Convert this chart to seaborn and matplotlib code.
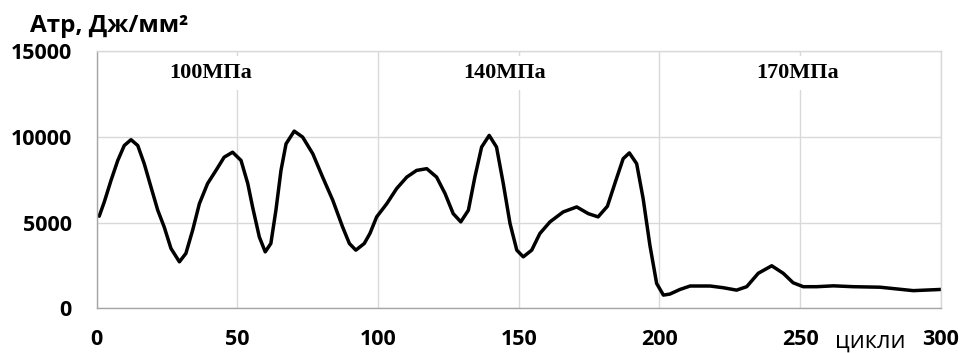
import matplotlib
matplotlib.use("Agg")
import matplotlib.pyplot as plt
import seaborn as sns
import pandas as pd

# Fatigue test: work of friction per loading cycle
cycles = [0.9, 2.7, 5.1, 7.5, 9.8, 12.2, 14.6, 16.9, 19.3, 21.7, 24.0, 26.4,
          29.4, 31.7, 34.1, 36.5, 39.4, 42.4, 45.3, 48.3, 51.3, 53.7, 55.4,
          57.8, 59.9, 61.9, 63.7, 65.5, 67.3, 70.2, 73.2, 76.8, 80.3, 83.9,
          87.4, 89.8, 92.1, 95.1, 97.1, 99.5, 103.1, 106.6, 110.2, 113.7,
          117.3, 120.8, 123.8, 126.7, 129.4, 132.1, 134.4, 136.8, 139.5,
          142.1, 144.5, 146.9, 149.3, 151.6, 154.6, 157.5, 161.1, 165.8,
          170.6, 174.7, 178.2, 181.5, 184.5, 187.1, 189.3, 191.9, 194.2,
          196.6, 199.0, 201.4, 203.7, 207.3, 210.9, 218.0, 222.7, 227.4,
          231.0, 235.1, 239.9, 244.0, 247.5, 251.1, 255.9, 261.8, 268.9,
          278.4, 290.2, 300.0]
work = [5370, 6200, 7460, 8620, 9490, 9830, 9490, 8430, 7070, 5720, 4740, 3490,
        2710, 3200, 4550, 6100, 7270, 8040, 8810, 9100, 8620, 7270, 5910,
        4160, 3290, 3780, 5720, 8040, 9590, 10330, 9980, 9010, 7650, 6300,
        4740, 3780, 3390, 3780, 4360, 5330, 6100, 6980, 7650, 8040,
        8140, 7650, 6690, 5520, 5040, 5720, 7650, 9400, 10080,
        9400, 7270, 4940, 3390, 3000, 3390, 4360, 5040, 5620,
        5910, 5520, 5330, 5950, 7450, 8720, 9060, 8430, 6400,
        3680, 1450, 770, 830, 1100, 1300, 1300, 1200, 1060,
        1260, 2040, 2480, 2040, 1490, 1260, 1260, 1310, 1260,
        1230, 1030, 1100]

stress_labels = ["100МПа", "140МПа", "170МПа"]
stress_label_x = [40.4, 145, 249]
stress_label_y = 13740

x_ticks = [0, 50, 100, 150, 200, 250, 300]
y_ticks = [0, 5000, 10000, 15000]
y_title = "Атр, Дж/мм²"
x_title = "цикли"

sns.set_theme(style="whitegrid")
sans = ["Open Sans", "DejaVu Sans"]
serif = ["Liberation Serif", "DejaVu Serif"]
plt.rcParams["font.family"] = sans

fig = plt.figure(figsize=(9.62, 3.53), dpi=100)
ax = fig.add_axes([0.1005, 0.1266, 0.8775, 0.7289])

df = pd.DataFrame({"cycle": cycles, "work": work})
sns.lineplot(data=df, x="cycle", y="work", ax=ax, color="black",
             linewidth=2.5, solid_joinstyle="round", solid_capstyle="round")

ax.set_xlim(0, 300)
ax.set_ylim(0, 15000)
ax.set_xticks(x_ticks)
ax.set_yticks(y_ticks)
ax.set_xlabel("")
ax.set_ylabel("")
ax.grid(True, color="#d9d9d9", linewidth=1.0)
ax.set_axisbelow(True)
for side in ["top", "right"]:
    ax.spines[side].set_color("#d9d9d9")
    ax.spines[side].set_linewidth(1.0)
for side in ["left", "bottom"]:
    ax.spines[side].set_color("#a6a6a6")
    ax.spines[side].set_linewidth(1.0)

ax.tick_params(axis="both", length=0, labelsize=15.5, labelcolor="black")
ax.tick_params(axis="y", pad=18)
ax.tick_params(axis="x", pad=15)
for lab in ax.get_xticklabels() + ax.get_yticklabels():
    lab.set_fontweight("bold")

for text, xpos in zip(stress_labels, stress_label_x):
    ax.text(xpos, stress_label_y, text, ha="center", va="center",
            family=serif, fontsize=16, fontweight="bold", color="black",
            bbox=dict(facecolor="white", edgecolor="none", pad=5))

fig.text(30 / 962, 1 - 32 / 353, y_title, ha="left", va="baseline",
         fontsize=17.5, fontweight="bold", color="black")
fig.text(870 / 962, 1 - 348 / 353, x_title, ha="center", va="baseline",
         fontsize=17, color="black")

fig.savefig("out.png", dpi=100)
